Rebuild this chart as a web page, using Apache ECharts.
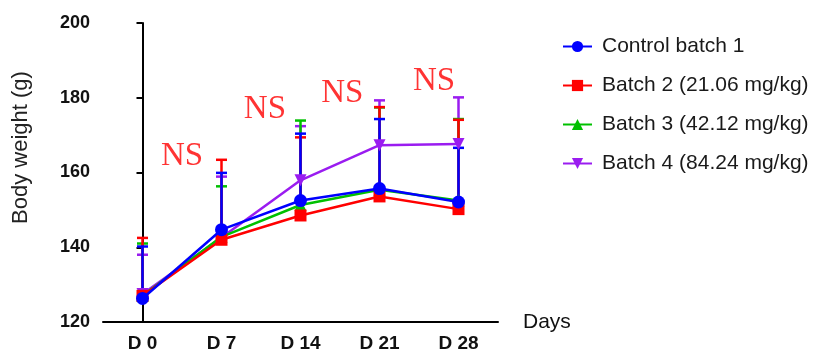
<!DOCTYPE html>
<html>
<head>
<meta charset="utf-8">
<script src="https://cdn.jsdelivr.net/npm/echarts@6/dist/echarts.min.js"></script>
<style>
html,body{margin:0;padding:0;background:#fff;}
#chart{width:818px;height:356px;}
</style>
</head>
<body>
<div id="chart"></div>
<script>
// ---- data ----
const categories = ['D 0', 'D 7', 'D 14', 'D 21', 'D 28'];
const seriesNames = ['Control batch 1', 'Batch 2 (21.06 mg/kg)', 'Batch 3 (42.12 mg/kg)', 'Batch 4 (84.24 mg/kg)'];
const controlMean = [126.3, 144.7, 152.5, 155.7, 152.1];
const batch2Mean  = [127.0, 142.0, 148.5, 153.6, 150.2];
const batch3Mean  = [127.0, 142.8, 151.3, 155.4, 152.5];
const batch4Mean  = [127.5, 142.6, 157.9, 167.3, 167.6];
const controlSD = [13.9, 15.2, 17.9, 18.6, 14.5];
const batch2SD  = [15.5, 21.4, 20.9, 23.9, 23.9];
const batch3SD  = [14.0, 13.5, 22.6, 22.0, 21.8];
const batch4SD  = [10.5, 16.3, 14.5, 12.0, 12.5];
const noteText = ['NS', 'NS', 'NS', 'NS'];
const noteX = [0.5, 1.55, 2.53, 3.69];
const noteY = [164.3, 176.8, 181.2, 184.4];
const yTicks = [120, 140, 160, 180, 200];

const colors = ['#0000ff', '#ff0000', '#00c000', '#9a1cf0'];
const symbols = ['circle', 'rect', 'triangle', 'triangle'];
const rotates = [0, 0, 0, 180];
const means = [controlMean, batch2Mean, batch3Mean, batch4Mean];
const sds = [controlSD, batch2SD, batch3SD, batch4SD];

const chart = echarts.init(document.getElementById('chart'), null, {renderer: 'canvas'});

function errSeries(k, z) {
  const color = colors[k];
  return {
    type: 'custom',
    name: 'err' + k,
    xAxisIndex: 0,
    yAxisIndex: 0,
    z: z,
    silent: true,
    data: means[k].map((m, i) => [i, m, m + sds[k][i]]),
    encode: {x: 0, y: [1, 2]},
    renderItem: function (params, api) {
      const p0 = api.coord([api.value(0), api.value(1)]);
      const p1 = api.coord([api.value(0), api.value(2)]);
      return {
        type: 'group',
        children: [
          {type: 'line', shape: {x1: p0[0], y1: p0[1], x2: p1[0], y2: p1[1]}, style: {stroke: color, lineWidth: 2.5}},
          {type: 'line', shape: {x1: p1[0] - 5.5, y1: p1[1], x2: p1[0] + 5.5, y2: p1[1]}, style: {stroke: color, lineWidth: 2.5}}
        ]
      };
    }
  };
}

function lineSeries(k, z) {
  return {
    type: 'line',
    name: seriesNames[k],
    data: means[k],
    z: z,
    symbol: symbols[k],
    symbolRotate: rotates[k],
    symbolSize: k === 0 ? 13 : 12,
    lineStyle: {color: colors[k], width: 2.5},
    itemStyle: {color: colors[k]},
    emphasis: {disabled: true}
  };
}

const drawOrder = [3, 2, 1, 0];
const series = [];
drawOrder.forEach((k, j) => series.push(errSeries(k, 2 + j)));
drawOrder.forEach((k, j) => series.push(lineSeries(k, 10 + j)));
series.push({
  type: 'scatter',
  name: 'notes',
  xAxisIndex: 1,
  yAxisIndex: 0,
  z: 20,
  silent: true,
  symbolSize: 1,
  itemStyle: {color: 'rgba(0,0,0,0)'},
  data: noteX.map((x, i) => ({value: [x, noteY[i]], label: {formatter: noteText[i]}})),
  label: {
    show: true,
    position: 'inside',
    fontFamily: 'Liberation Serif',
    fontSize: 33,
    color: '#ff0000'
  }
});

chart.setOption({
  animation: false,
  backgroundColor: '#ffffff',
  grid: {left: 103, right: 320, top: 23, bottom: 34, containLabel: false},
  legend: {
    data: seriesNames,
    orient: 'vertical',
    left: 557,
    top: 31,
    itemWidth: 29,
    itemHeight: 14,
    itemGap: 18,
    selectedMode: false,
    textStyle: {fontFamily: 'Liberation Sans', fontSize: 21, color: '#1a1a1a', padding: [0, 0, 0, 5]}
  },
  xAxis: [{
    type: 'category',
    data: categories,
    boundaryGap: true,
    axisLine: {lineStyle: {color: '#000', width: 2}},
    axisTick: {alignWithLabel: true, length: 6, lineStyle: {color: '#000', width: 2}},
    axisLabel: {margin: 12, fontFamily: 'Liberation Sans', fontWeight: 'bold', fontSize: 19, color: '#111'},
    splitLine: {show: false},
    name: 'Days',
    nameLocation: 'end',
    nameGap: 25,
    nameTextStyle: {fontFamily: 'Liberation Sans', fontSize: 21, color: '#111'}
  }, {
    type: 'value',
    min: -0.5,
    max: 4.5,
    show: false,
    splitLine: {show: false}
  }],
  yAxis: {
    type: 'value',
    min: yTicks[0],
    max: yTicks[yTicks.length - 1],
    interval: 20,
    axisLine: {show: true, lineStyle: {color: '#000', width: 2}},
    axisTick: {show: true, length: 6, lineStyle: {color: '#000', width: 2}},
    axisLabel: {margin: 13, fontFamily: 'Liberation Sans', fontWeight: 'bold', fontSize: 18, color: '#111'},
    splitLine: {show: false},
    name: 'Body weight (g)',
    nameLocation: 'middle',
    nameGap: 71,
    nameTextStyle: {fontFamily: 'Liberation Sans', fontSize: 22, color: '#222', padding: [0, 0, 0, 50]}
  },
  series: series
});
</script>
</body>
</html>
